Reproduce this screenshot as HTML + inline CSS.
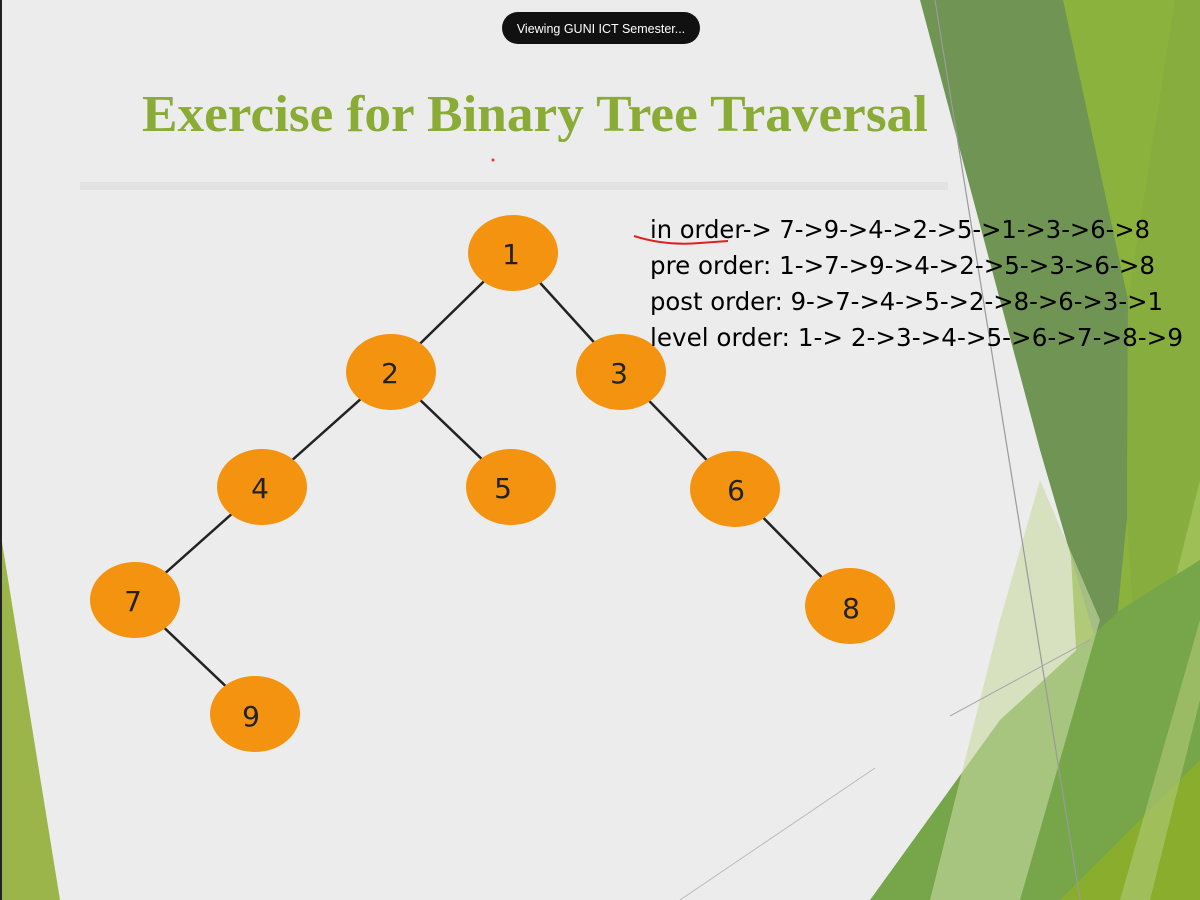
<!DOCTYPE html>
<html><head><meta charset="utf-8"><style>
html,body{margin:0;padding:0;background:#ececec;}
svg{display:block}
</style></head><body>
<svg width="1200" height="900" viewBox="0 0 1200 900" xmlns="http://www.w3.org/2000/svg">
<rect width="1200" height="900" fill="#ececec"/>
<rect x="80" y="182" width="868" height="8" fill="#e2e2e2"/>
<polygon points="0,530 0,900 60,900" fill="#9bb54a"/>
<rect x="0" y="0" width="2" height="900" fill="#222"/>
<polygon points="1040,0 1200,0 1200,900 1090,900" fill="#8ab23c"/>
<polygon points="920,0 1063,0 1128,300 1127,517 1110,690 1040,450" fill="#6f9454"/>
<polygon points="1127,517 1128,300 1175,0 1200,0 1200,480 1140,720" fill="#86ad3e"/>
<polygon points="1140,720 1200,480 1200,640 1160,760" fill="#a2c05c" opacity="0.8"/>
<polygon points="870,900 1000,720 1120,610 1200,560 1200,900" fill="#76a54a"/>
<polygon points="930,900 1000,620 1040,480 1100,620 1020,900" fill="#c9daa3" opacity="0.6"/>
<polygon points="1060,900 1200,760 1200,900" fill="#8aad2e"/>
<polygon points="1120,900 1160,760 1200,620 1200,700 1150,900" fill="#a9c46e" opacity="0.7"/>
<line x1="935" y1="0" x2="1080" y2="900" stroke="#9a9a9a" stroke-width="1.2"/>
<line x1="950" y1="716" x2="1090" y2="640" stroke="#aaa" stroke-width="1"/>
<line x1="680" y1="900" x2="875" y2="768" stroke="#bbb" stroke-width="1"/>
<rect x="502" y="12" width="198" height="32" rx="16" fill="#111"/>
<text x="601" y="33" font-family="Liberation Sans, sans-serif" font-size="12.5" fill="#fff" text-anchor="middle">Viewing GUNI ICT Semester...</text>
<text x="142" y="131" font-family="Liberation Serif, serif" font-weight="bold" font-size="52" fill="#8aab35" textLength="786" lengthAdjust="spacingAndGlyphs">Exercise for Binary Tree Traversal</text>
<circle cx="493" cy="160" r="1.5" fill="#e33"/>
<g stroke="#222" stroke-width="2.5">
<line x1="513" y1="253" x2="391" y2="372"/>
<line x1="513" y1="253" x2="621" y2="372"/>
<line x1="391" y1="372" x2="262" y2="487"/>
<line x1="391" y1="372" x2="511" y2="487"/>
<line x1="621" y1="372" x2="735" y2="489"/>
<line x1="262" y1="487" x2="135" y2="600"/>
<line x1="735" y1="489" x2="850" y2="606"/>
<line x1="135" y1="600" x2="255" y2="714"/>
</g>
<g fill="#f3930f">
<ellipse cx="513" cy="253" rx="45" ry="38"/>
<ellipse cx="391" cy="372" rx="45" ry="38"/>
<ellipse cx="621" cy="372" rx="45" ry="38"/>
<ellipse cx="262" cy="487" rx="45" ry="38"/>
<ellipse cx="511" cy="487" rx="45" ry="38"/>
<ellipse cx="735" cy="489" rx="45" ry="38"/>
<ellipse cx="135" cy="600" rx="45" ry="38"/>
<ellipse cx="850" cy="606" rx="45" ry="38"/>
<ellipse cx="255" cy="714" rx="45" ry="38"/>
</g>
<g font-family="DejaVu Sans, sans-serif" font-size="28" fill="#222" text-anchor="middle">
<text x="511" y="264">1</text>
<text x="390" y="383">2</text>
<text x="619" y="383">3</text>
<text x="260" y="498">4</text>
<text x="503" y="498">5</text>
<text x="736" y="500">6</text>
<text x="133" y="611">7</text>
<text x="851" y="618">8</text>
<text x="251" y="726">9</text>
</g>
<g font-family="DejaVu Sans, sans-serif" font-size="25" fill="#000" style="font-weight:500">
<text x="650" y="238" textLength="500" lengthAdjust="spacingAndGlyphs">in order-&gt; 7-&gt;9-&gt;4-&gt;2-&gt;5-&gt;1-&gt;3-&gt;6-&gt;8</text>
<text x="650" y="274" textLength="505" lengthAdjust="spacingAndGlyphs">pre order: 1-&gt;7-&gt;9-&gt;4-&gt;2-&gt;5-&gt;3-&gt;6-&gt;8</text>
<text x="650" y="310" textLength="513" lengthAdjust="spacingAndGlyphs">post order: 9-&gt;7-&gt;4-&gt;5-&gt;2-&gt;8-&gt;6-&gt;3-&gt;1</text>
<text x="650" y="346" textLength="533" lengthAdjust="spacingAndGlyphs">level order: 1-&gt; 2-&gt;3-&gt;4-&gt;5-&gt;6-&gt;7-&gt;8-&gt;9</text>
</g>
<path d="M634,236 Q665,246 700,243 L728,241" stroke="#d22" stroke-width="2" fill="none"/>
</svg>
</body></html>
